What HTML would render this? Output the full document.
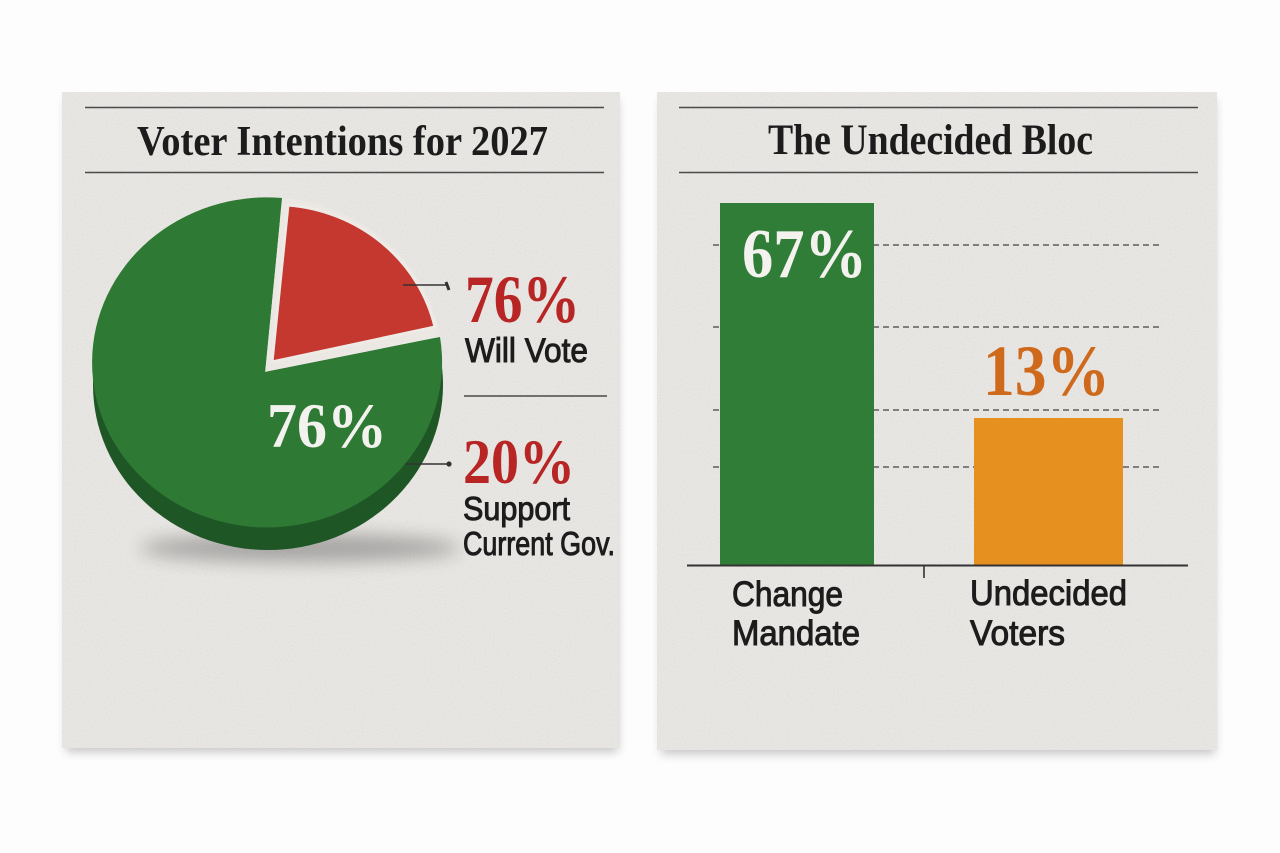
<!DOCTYPE html>
<html>
<head>
<meta charset="utf-8">
<style>
  html,body{margin:0;padding:0;background:#fdfdfd;}
  svg{display:block;}
  .serif{font-family:"Liberation Serif",serif;font-weight:bold;}
  .sans{font-family:"Liberation Sans",sans-serif;}
</style>
</head>
<body>
<svg width="1280" height="853" viewBox="0 0 1280 853" xmlns="http://www.w3.org/2000/svg">
  <defs>
    <filter id="paper" x="0" y="0" width="100%" height="100%">
      <feTurbulence type="fractalNoise" baseFrequency="0.75" numOctaves="3" seed="5" result="n"/>
      <feColorMatrix in="n" type="matrix" values="0 0 0 0 0.5  0 0 0 0 0.49  0 0 0 0 0.48  0 0 0 -0.5 0.33" result="g"/>
      <feComposite in="g" in2="SourceGraphic" operator="in" result="m"/>
      <feMerge><feMergeNode in="SourceGraphic"/><feMergeNode in="m"/></feMerge>
    </filter>
    <filter id="blur5" x="-20%" y="-20%" width="140%" height="140%">
      <feGaussianBlur stdDeviation="5"/>
    </filter>
    <filter id="blur10" x="-50%" y="-200%" width="200%" height="500%">
      <feGaussianBlur stdDeviation="9"/>
    </filter>
  </defs>

  <rect x="0" y="0" width="1280" height="853" fill="#fdfdfd"/>

  <!-- panel shadows -->
  <rect x="66" y="100" width="552" height="652" fill="#000" opacity="0.22" filter="url(#blur5)"/>
  <rect x="661" y="100" width="554" height="654" fill="#000" opacity="0.22" filter="url(#blur5)"/>

  <!-- panels -->
  <rect x="62" y="92" width="558" height="656" fill="#eae8e5" filter="url(#paper)"/>
  <rect x="657" y="92" width="560" height="658" fill="#eae8e5" filter="url(#paper)"/>

  <!-- ===== LEFT PANEL ===== -->
  <line x1="85" y1="107.5" x2="604" y2="107.5" stroke="#4a4a4a" stroke-width="1.6"/>
  <line x1="85" y1="172.5" x2="604" y2="172.5" stroke="#4a4a4a" stroke-width="1.6"/>
  <text class="serif" x="137" y="155" font-size="42" fill="#1c1c1c" textLength="411" lengthAdjust="spacingAndGlyphs">Voter Intentions for 2027</text>

  <!-- pie shadow -->
  <ellipse cx="300" cy="548" rx="160" ry="14" fill="#000" opacity="0.28" filter="url(#blur10)"/>
  <!-- pie side -->
  <ellipse cx="268" cy="385" rx="175" ry="165" fill="#1f5626"/>
  <!-- gap fill -->
  <path d="M265,372 L282,198 A175 165 0 0 1 440,337 Z" fill="#ebe8e4"/>
  <!-- green top -->
  <path d="M265,372 L282,198 A175 165 0 1 0 440,337 Z" fill="#2e7a34"/>
  <!-- red slice -->
  <path d="M272,362 L288,205 A165 157 0 0 1 435,327 Z" fill="#c5382f" stroke="#eeebe7" stroke-width="3" stroke-linejoin="round"/>

  <text class="serif" x="267" y="447" font-size="64" fill="#f4f2ee" textLength="120" lengthAdjust="spacingAndGlyphs">76%</text>

  <!-- leader lines -->
  <line x1="403" y1="285" x2="446" y2="285" stroke="#333" stroke-width="1.6"/>
  <line x1="446" y1="282" x2="449" y2="290" stroke="#333" stroke-width="3"/>
  <line x1="405" y1="464" x2="447" y2="464" stroke="#333" stroke-width="1.6"/>
  <circle cx="449" cy="464" r="2.6" fill="#333"/>

  <text class="serif" x="465" y="322" font-size="68" fill="#b72524" textLength="115" lengthAdjust="spacingAndGlyphs">76%</text>
  <text class="sans" x="465" y="362" font-size="34" fill="#1c1c1c" stroke="#1c1c1c" stroke-width="1" textLength="123" lengthAdjust="spacingAndGlyphs">Will Vote</text>
  <line x1="464" y1="396" x2="607" y2="396" stroke="#4a4a4a" stroke-width="1.6"/>
  <text class="serif" x="463" y="483" font-size="64" fill="#b72524" textLength="112" lengthAdjust="spacingAndGlyphs">20%</text>
  <text class="sans" x="463" y="520" font-size="33" fill="#1c1c1c" stroke="#1c1c1c" stroke-width="1" textLength="107" lengthAdjust="spacingAndGlyphs">Support</text>
  <text class="sans" x="463" y="555" font-size="33" fill="#1c1c1c" stroke="#1c1c1c" stroke-width="1" textLength="152" lengthAdjust="spacingAndGlyphs">Current Gov.</text>

  <!-- ===== RIGHT PANEL ===== -->
  <line x1="679" y1="107.5" x2="1198" y2="107.5" stroke="#4a4a4a" stroke-width="1.6"/>
  <line x1="679" y1="172.5" x2="1198" y2="172.5" stroke="#4a4a4a" stroke-width="1.6"/>
  <text class="serif" x="768" y="154" font-size="43" fill="#1c1c1c" textLength="325" lengthAdjust="spacingAndGlyphs">The Undecided Bloc</text>

  <!-- gridlines -->
  <g stroke="#7f7f7f" stroke-width="2" stroke-dasharray="6 4">
    <line x1="713" y1="245" x2="1162" y2="245"/>
    <line x1="713" y1="327" x2="1162" y2="327"/>
    <line x1="713" y1="410" x2="1162" y2="410"/>
    <line x1="713" y1="467" x2="1162" y2="467"/>
  </g>

  <!-- bars -->
  <rect x="720" y="203" width="154" height="362" fill="#2f7d36"/>
  <rect x="974" y="418" width="149" height="147" fill="#e6901f"/>

  <!-- axis -->
  <line x1="687" y1="565.5" x2="1188" y2="565.5" stroke="#333" stroke-width="2"/>
  <line x1="924" y1="565" x2="924" y2="578" stroke="#333" stroke-width="1.6"/>

  <text class="serif" x="742" y="277" font-size="70" fill="#f4f2ee" textLength="125" lengthAdjust="spacingAndGlyphs">67%</text>
  <text class="serif" x="983" y="395" font-size="72" fill="#cf6a1c" textLength="127" lengthAdjust="spacingAndGlyphs">13%</text>

  <text class="sans" x="732" y="606" font-size="35" fill="#1c1c1c" stroke="#1c1c1c" stroke-width="1" textLength="111" lengthAdjust="spacingAndGlyphs">Change</text>
  <text class="sans" x="732" y="645" font-size="35" fill="#1c1c1c" stroke="#1c1c1c" stroke-width="1" textLength="128" lengthAdjust="spacingAndGlyphs">Mandate</text>
  <text class="sans" x="970" y="605" font-size="35" fill="#1c1c1c" stroke="#1c1c1c" stroke-width="1" textLength="157" lengthAdjust="spacingAndGlyphs">Undecided</text>
  <text class="sans" x="970" y="645" font-size="35" fill="#1c1c1c" stroke="#1c1c1c" stroke-width="1" textLength="95" lengthAdjust="spacingAndGlyphs">Voters</text>
</svg>
</body>
</html>
